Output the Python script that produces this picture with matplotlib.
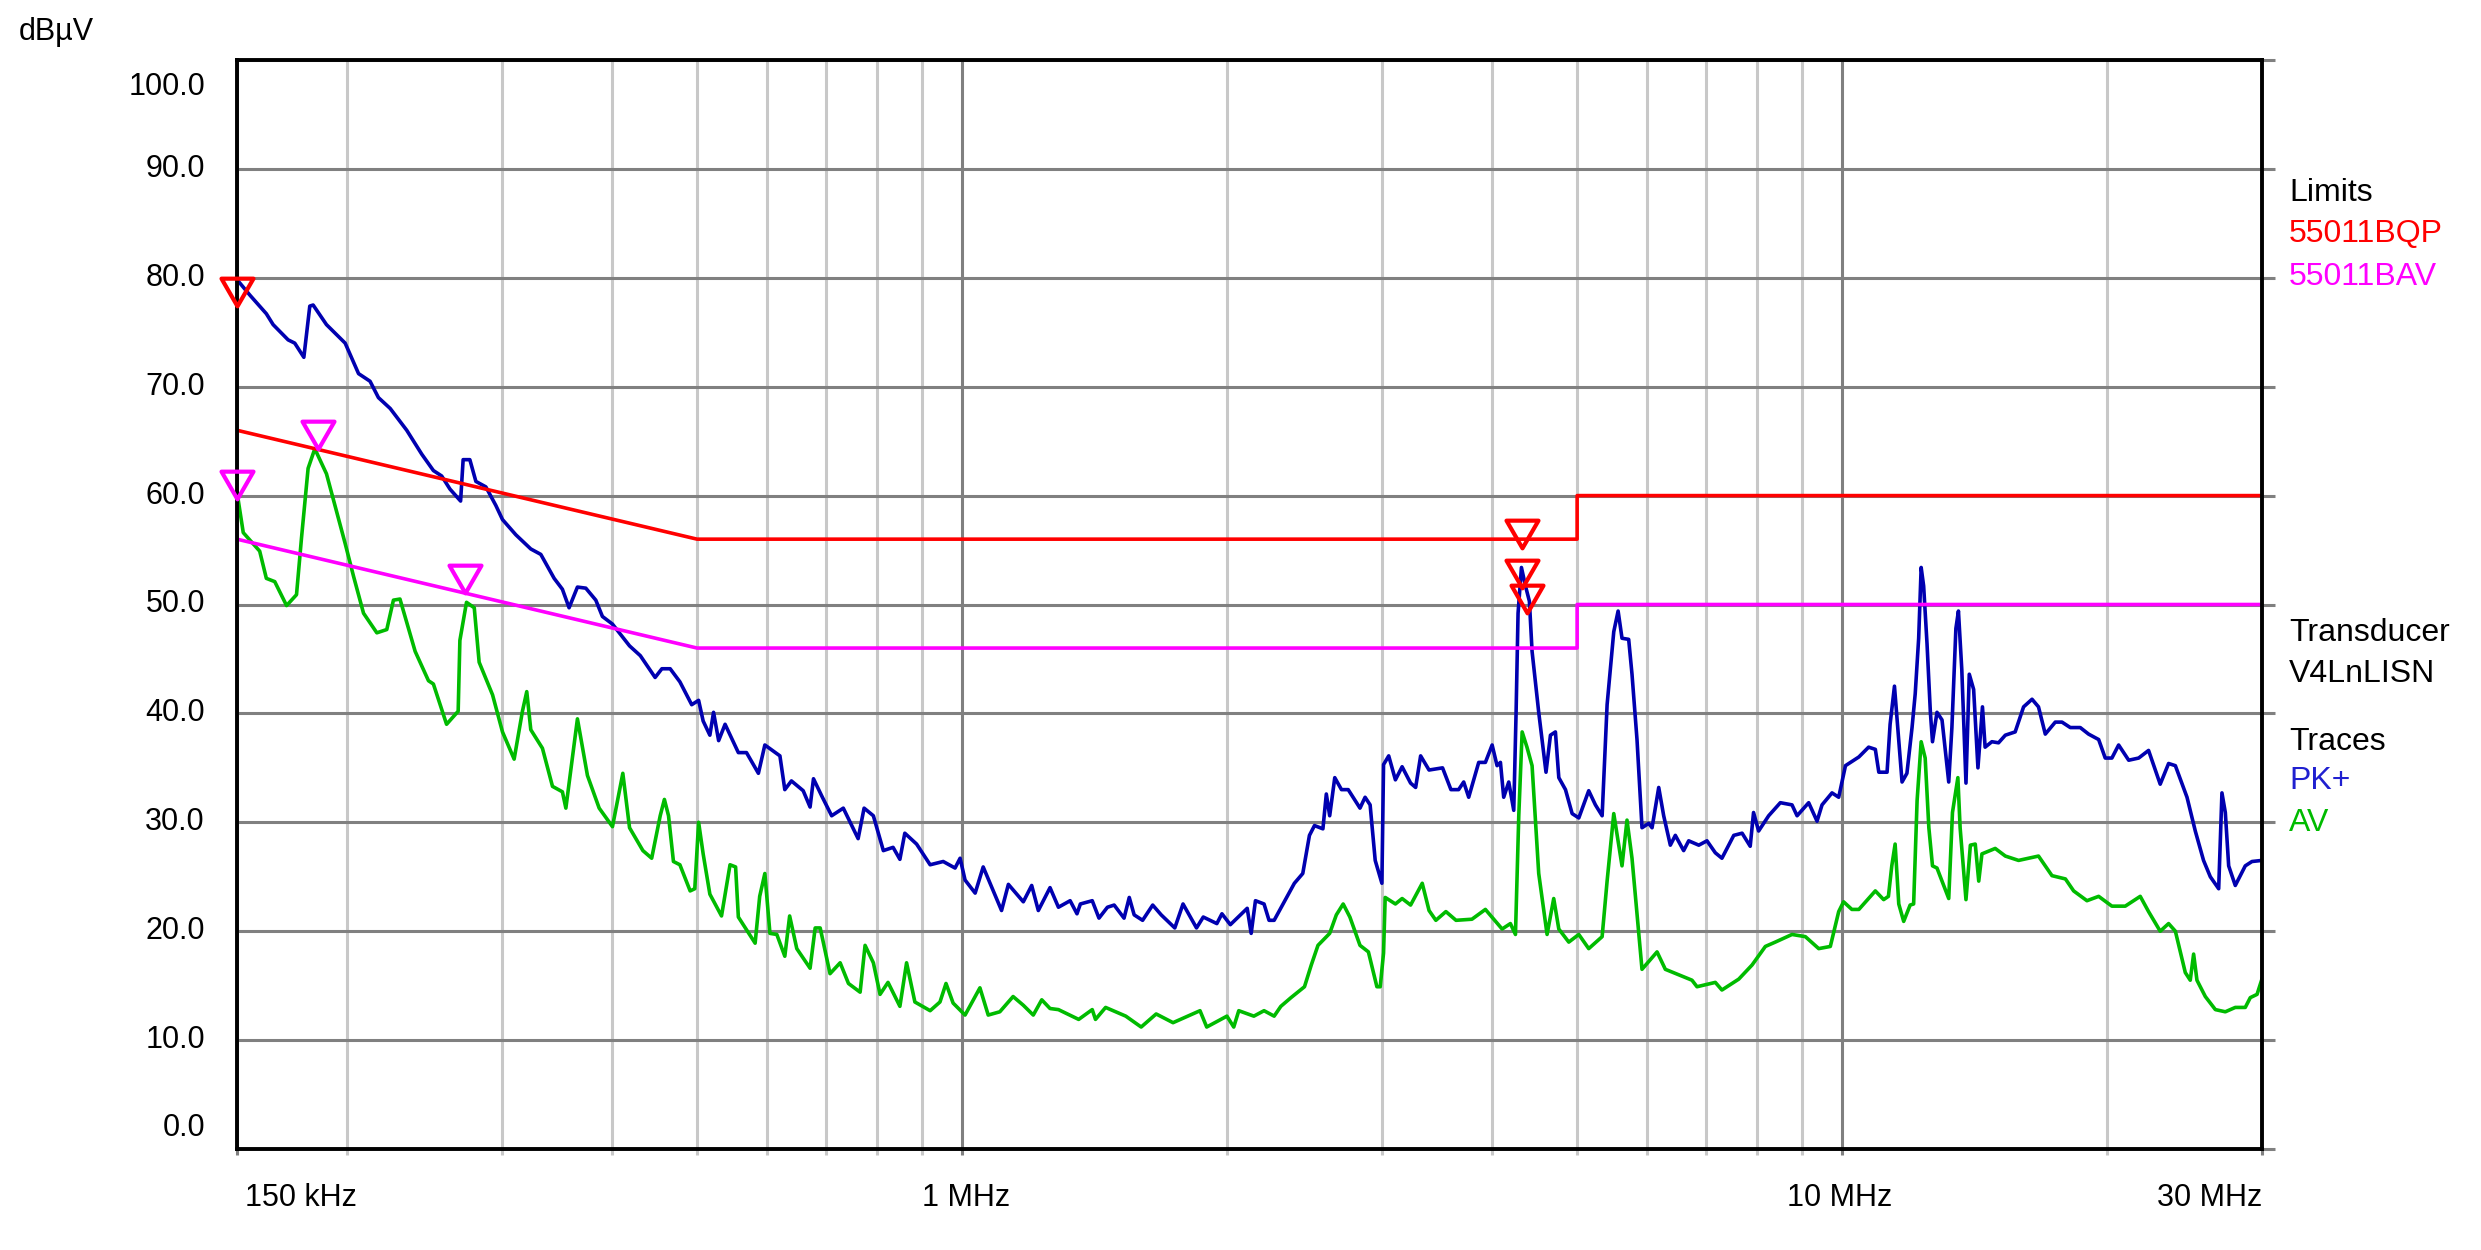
import matplotlib
matplotlib.use("Agg")
import matplotlib.pyplot as plt
from matplotlib.path import Path
from matplotlib.ticker import FixedLocator, NullLocator
from matplotlib.transforms import blended_transform_factory, ScaledTranslation

plt.rcParams['font.family'] = ['Liberation Sans', 'DejaVu Sans']

# frequency in MHz, level in dBuV
pk_freq = [0.1505, 0.1552, 0.1620, 0.1649, 0.1715, 0.1745, 0.1787, 0.1815, 0.1831, 0.1896,
           0.1991, 0.2062, 0.2125, 0.2172, 0.2240, 0.2339, 0.2433, 0.2508, 0.2563, 0.2619,
           0.2693, 0.2711, 0.2759, 0.2803, 0.2877, 0.2953, 0.3005, 0.3112, 0.3236, 0.3322,
           0.3440, 0.3515, 0.3577, 0.3656, 0.3737, 0.3836, 0.3903, 0.4007, 0.4190,
           0.431, 0.448, 0.456, 0.466, 0.478, 0.493, 0.502, 0.508, 0.517, 0.522,
           0.529, 0.538, 0.557, 0.569, 0.587, 0.597, 0.621, 0.629, 0.640, 0.660,
           0.672, 0.678, 0.693, 0.711, 0.733, 0.762, 0.774, 0.793, 0.814, 0.835,
           0.850, 0.861, 0.888, 0.920, 0.952, 0.982, 0.995, 1.008, 1.035, 1.057,
           1.109, 1.129, 1.174, 1.200, 1.221, 1.259,
           1.287, 1.327, 1.351, 1.363, 1.406, 1.431, 1.463, 1.489, 1.528, 1.549,
           1.569, 1.604, 1.647, 1.684, 1.745, 1.783, 1.847, 1.880, 1.948, 1.974,
           2.018, 2.109, 2.131, 2.155, 2.204, 2.233, 2.263, 2.324, 2.386, 2.439,
           2.482, 2.515, 2.571, 2.594, 2.617, 2.652, 2.699, 2.747, 2.833, 2.871,
           2.909, 2.948, 3.000, 3.013, 3.054, 3.108, 3.163, 3.234, 3.277, 3.320,
           3.394, 3.516, 3.594,
           3.667, 3.716, 3.765, 3.865, 3.933, 4.003, 4.055, 4.091, 4.126, 4.181,
           4.236, 4.262, 4.284, 4.322, 4.368, 4.413, 4.444, 4.522, 4.609, 4.663,
           4.724, 4.766, 4.850, 4.935, 5.022, 5.154, 5.245, 5.338, 5.408, 5.503,
           5.566, 5.623, 5.722, 5.772, 5.848, 5.925, 6.030, 6.083, 6.190, 6.271,
           6.381, 6.465, 6.607, 6.695, 6.874, 7.023, 7.178, 7.303, 7.533, 7.699,
           7.864, 7.933, 8.039, 8.253, 8.509, 8.773, 8.890, 9.164, 9.367, 9.490,
           9.741, 9.913, 10.09,
           10.45, 10.72, 10.91, 11.01, 11.25, 11.34, 11.47, 11.57, 11.70, 11.85,
           12.01, 12.11, 12.22, 12.30, 12.38, 12.49, 12.60, 12.67, 12.82, 12.99,
           13.22, 13.33, 13.47, 13.56, 13.68, 13.83, 13.95, 14.11, 14.27, 14.44,
           14.54, 14.80, 15.06, 15.33, 15.73, 16.08, 16.44, 16.72, 17.02, 17.47,
           17.78, 18.17, 18.65, 19.06, 19.57, 19.91, 20.26, 20.62, 21.17, 21.73,
           22.30, 22.99, 23.50, 23.92, 24.66, 25.20, 25.75, 26.21, 26.79, 27.02,
           27.26, 27.50, 27.98, 28.72, 29.23, 30.0]
pk_level = [79.7, 78.4, 76.7, 75.7, 74.3, 74.0, 72.7, 77.4, 77.5, 75.7,
            74.0, 71.2, 70.5, 69.0, 68.0, 66.0, 63.8, 62.3, 61.8, 60.6,
            59.5, 63.3, 63.3, 61.3, 60.8, 59.1, 57.8, 56.4, 55.1, 54.6,
            52.4, 51.4, 49.7, 51.6, 51.5, 50.4, 48.9, 48.2, 46.2,
            45.3, 43.3, 44.1, 44.1, 42.9, 40.8, 41.2, 39.3, 38.0, 40.1,
            37.5, 39.0, 36.4, 36.4, 34.5, 37.1, 36.1, 33.0, 33.8, 32.9,
            31.4, 34.0, 32.4, 30.6, 31.3, 28.5, 31.3, 30.6, 27.4, 27.7,
            26.6, 29.0, 28.0, 26.1, 26.4, 25.8, 26.7, 24.7, 23.5, 25.9,
            21.9, 24.3, 22.7, 24.2, 21.9, 24.0,
            22.2, 22.8, 21.6, 22.5, 22.8, 21.2, 22.2, 22.4, 21.2, 23.1,
            21.5, 21.0, 22.4, 21.5, 20.3, 22.5, 20.3, 21.3, 20.7, 21.6,
            20.6, 22.1, 19.8, 22.8, 22.5, 21.0, 21.0, 22.7, 24.4, 25.3,
            28.8, 29.7, 29.4, 32.6, 30.6, 34.1, 33.0, 33.0, 31.3, 32.3,
            31.6, 26.5, 24.4, 35.3, 36.1, 33.9, 35.1, 33.6, 33.2, 36.1,
            34.8, 35.0, 33.0,
            33.0, 33.7, 32.3, 35.5, 35.5, 37.1, 35.2, 35.5, 32.3, 33.7,
            31.1, 40.1, 49.2, 53.4, 51.7, 50.3, 45.7, 40.1, 34.6, 38.0,
            38.3, 34.1, 33.0, 30.8, 30.4, 32.9, 31.6, 30.6, 40.8, 47.5,
            49.4, 46.9, 46.8, 43.6, 37.6, 29.5, 29.9, 29.5, 33.2, 30.6,
            27.9, 28.8, 27.4, 28.3, 27.9, 28.3, 27.2, 26.7, 28.8, 29.0,
            27.8, 30.9, 29.2, 30.6, 31.8, 31.6, 30.6, 31.8, 30.1, 31.6,
            32.7, 32.3, 35.2,
            36.0, 36.9, 36.7, 34.6, 34.6, 39.0, 42.5, 38.7, 33.7, 34.5,
            38.7, 41.8, 46.9, 53.4, 51.7, 46.4, 40.1, 37.4, 40.1, 39.4,
            33.7, 38.7, 47.8, 49.4, 44.0, 33.6, 43.6, 42.2, 35.0, 40.6,
            36.9, 37.4, 37.3, 38.0, 38.3, 40.6, 41.3, 40.6, 38.1, 39.2,
            39.2, 38.7, 38.7, 38.1, 37.6, 35.9, 35.9, 37.1, 35.7, 35.9,
            36.6, 33.5, 35.4, 35.2, 32.3, 29.2, 26.5, 25.0, 23.9, 32.7,
            30.9, 26.0, 24.2, 26.0, 26.4, 26.5]

av_freq = [0.1505, 0.1525, 0.1592, 0.1620, 0.1656, 0.1708, 0.1753, 0.1776, 0.1807, 0.1839,
           0.1896, 0.1991, 0.2035, 0.2089, 0.2163, 0.2220, 0.2259, 0.2298, 0.2391, 0.2476,
           0.2508, 0.2596, 0.2676, 0.2688, 0.2735, 0.2791, 0.2827, 0.2928, 0.3005, 0.3098,
           0.3166, 0.3202, 0.3236, 0.3336, 0.3425, 0.3515, 0.3547, 0.3593, 0.3656, 0.3753,
           0.3870, 0.4007, 0.4117, 0.4190, 0.4339,
           0.444, 0.454, 0.459, 0.464, 0.470, 0.478, 0.491, 0.497, 0.502, 0.508,
           0.517, 0.533, 0.545, 0.553, 0.557, 0.582, 0.589, 0.597, 0.605, 0.616,
           0.629, 0.637, 0.649, 0.672, 0.681, 0.690, 0.708, 0.727, 0.743, 0.766,
           0.776, 0.793, 0.807, 0.824, 0.850, 0.865, 0.884, 0.920, 0.944, 0.959,
           0.977, 1.008, 1.048, 1.071, 1.104, 1.143, 1.174, 1.205, 1.232, 1.259,
           1.287, 1.357, 1.406, 1.418, 1.456, 1.535, 1.598, 1.662, 1.737, 1.864,
           1.897, 2.000, 2.036, 2.063, 2.146, 2.204, 2.263, 2.303, 2.365, 2.450,
           2.494, 2.538, 2.617, 2.663, 2.711, 2.759, 2.833, 2.896, 2.961, 2.987,
           3.013, 3.026, 3.108, 3.163, 3.234, 3.334, 3.394, 3.455, 3.547, 3.642,
           3.797, 3.933, 4.109, 4.199, 4.255, 4.292, 4.330, 4.385, 4.444, 4.522,
           4.622, 4.703, 4.766, 4.892, 5.022, 5.154, 5.338, 5.408, 5.503, 5.623,
           5.697, 5.772, 5.925, 6.163, 6.298, 6.753, 6.842, 7.178, 7.303, 7.632,
           7.903, 8.182, 8.398, 8.773, 9.085, 9.408, 9.698, 9.913, 10.04, 10.26,
           10.45, 10.91, 11.15, 11.29, 11.39, 11.49, 11.60, 11.75, 11.95, 12.06,
           12.17, 12.30, 12.43, 12.55, 12.67, 12.82, 13.22, 13.35, 13.54, 13.62,
           13.83, 13.99, 14.17, 14.30, 14.42, 14.93, 15.33, 15.87, 16.72, 17.32,
           17.94, 18.33, 18.98, 19.57, 20.26, 20.98, 21.82, 22.30, 22.99, 23.50,
           23.92, 24.55, 24.87, 25.09, 25.31, 25.87, 26.56, 27.26, 27.98, 28.72,
           29.10, 29.62, 30.0]
av_level = [59.6, 56.6, 54.9, 52.4, 52.1, 49.9, 50.9, 56.1, 62.5, 64.3,
            62.0, 55.6, 52.6, 49.2, 47.4, 47.7, 50.4, 50.5, 45.7, 43.0,
            42.7, 39.0, 40.2, 46.7, 50.2, 49.7, 44.7, 41.7, 38.3, 35.8,
            40.2, 42.0, 38.5, 36.8, 33.3, 32.8, 31.3, 34.8, 39.5, 34.3,
            31.3, 29.6, 34.5, 29.5, 27.4,
            26.7, 30.6, 32.1, 30.6, 26.4, 26.1, 23.7, 23.9, 30.0, 27.1,
            23.4, 21.4, 26.1, 25.9, 21.3, 18.9, 23.2, 25.3, 19.8, 19.7,
            17.7, 21.4, 18.4, 16.6, 20.3, 20.3, 16.1, 17.1, 15.2, 14.4,
            18.7, 17.1, 14.2, 15.3, 13.1, 17.1, 13.5, 12.7, 13.5, 15.2,
            13.4, 12.3, 14.8, 12.3, 12.6, 14.0, 13.2, 12.3, 13.7, 12.9,
            12.8, 11.9, 12.8, 11.9, 13.0, 12.2, 11.2, 12.4, 11.6, 12.7,
            11.2, 12.2, 11.2, 12.7, 12.2, 12.7, 12.2, 13.1, 13.9, 14.9,
            16.9, 18.7, 19.8, 21.5, 22.5, 21.3, 18.7, 18.1, 14.9, 14.9,
            18.0, 23.1, 22.5, 23.0, 22.4, 24.4, 21.9, 21.0, 21.8, 21.0,
            21.1, 22.0, 20.2, 20.7, 19.7, 30.6, 38.3, 36.9, 35.2, 25.3,
            19.7, 23.0, 20.2, 19.0, 19.7, 18.4, 19.5, 24.6, 30.8, 26.0,
            30.2, 26.7, 16.5, 18.1, 16.5, 15.5, 14.9, 15.3, 14.6, 15.6,
            16.9, 18.6, 19.0, 19.7, 19.5, 18.4, 18.6, 21.8, 22.7, 22.0,
            22.0, 23.7, 22.9, 23.2, 26.0, 28.0, 22.5, 20.9, 22.4, 22.5,
            32.0, 37.4, 35.9, 29.5, 26.0, 25.8, 23.0, 30.9, 34.1, 29.5,
            22.9, 27.9, 28.0, 24.6, 27.1, 27.6, 26.9, 26.5, 26.9, 25.1,
            24.8, 23.7, 22.8, 23.2, 22.3, 22.3, 23.2, 21.8, 20.0, 20.7,
            20.0, 16.2, 15.5, 17.9, 15.5, 14.0, 12.8, 12.6, 13.0, 13.0,
            13.9, 14.2, 15.6]

# EN 55011 class B limit lines
qp_lim_freq = [0.15, 0.5, 5.0, 5.0, 30.0]
qp_lim_level = [66.0, 56.0, 56.0, 60.0, 60.0]
av_lim_freq = [0.15, 0.5, 5.0, 5.0, 30.0]
av_lim_level = [56.0, 46.0, 46.0, 50.0, 50.0]

# final measurement markers
qp_mark_freq = [0.150, 4.33, 4.33, 4.38]
qp_mark_level = [78.7, 56.5, 52.8, 50.5]
av_mark_freq = [0.150, 0.1855, 0.2723]
av_mark_level = [61.0, 65.6, 52.3]

x_ticks = [0.15, 1, 10, 30]
x_tick_labels = ['150 kHz', '1 MHz', '10 MHz', '30 MHz']
x_minor = [0.2, 0.3, 0.4, 0.5, 0.6, 0.7, 0.8, 0.9, 2, 3, 4, 5, 6, 7, 8, 9, 20]
y_ticks = [0, 10, 20, 30, 40, 50, 60, 70, 80, 90, 100]

c_pk = '#0000b0'
c_av = '#00bb00'
c_qp = '#ff0000'
c_avl = '#ff00ff'

fig = plt.figure(figsize=(24.81, 12.5), dpi=100)
ax = fig.add_axes([0.0955, 0.0808, 0.8162, 0.8712])

ax.plot(pk_freq, pk_level, color=c_pk, lw=2.6, zorder=3)
ax.plot(av_freq, av_level, color=c_av, lw=2.6, zorder=3)
ax.plot(qp_lim_freq, qp_lim_level, color=c_qp, lw=2.6, zorder=4)
ax.plot(av_lim_freq, av_lim_level, color=c_avl, lw=2.6, zorder=4)

tri = Path([(-1, 0.866), (1, 0.866), (0, -0.866), (-1, 0.866)], closed=True)
ax.plot(qp_mark_freq, qp_mark_level, ls='none', marker=tri, ms=23, mfc='none',
        mec=c_qp, mew=3, zorder=6, clip_on=False)
ax.plot(av_mark_freq, av_mark_level, ls='none', marker=tri, ms=23, mfc='none',
        mec=c_avl, mew=3, zorder=6, clip_on=False)

ax.set_xscale('log')
ax.set_xlim(0.15, 30)
ax.set_ylim(0, 100)

ax.xaxis.set_major_locator(FixedLocator(x_ticks))
ax.xaxis.set_minor_locator(FixedLocator(x_minor))
ax.xaxis.set_major_formatter(plt.NullFormatter())
ax.xaxis.set_minor_formatter(plt.NullFormatter())

ax.set_yticks(y_ticks)
ax.yaxis.set_minor_locator(NullLocator())
ax.set_yticklabels([])

ax.grid(which='major', axis='x', color='#808080', lw=2.2)
ax.grid(which='minor', axis='x', color='#c8c8c8', lw=2.2)
ax.grid(which='major', axis='y', color='#808080', lw=2.2)
ax.set_axisbelow(True)

ax.tick_params(axis='x', which='major', direction='out', length=4, width=2.2,
               color='#808080')
ax.tick_params(axis='x', which='minor', direction='out', length=4, width=2.2,
               color='#c8c8c8')
ax.tick_params(axis='y', left=False, right=True, direction='out', length=9,
               width=2.2, color='#808080', labelleft=False)

for s in ax.spines.values():
    s.set_color('black')
    s.set_linewidth(2.8)
    s.set_zorder(5)

# y tick labels, the end ones pulled inside the frame
ytrans = blended_transform_factory(ax.transAxes, ax.transData)
for v in y_ticks:
    dy = 0
    if v == 100:
        dy = -0.27
    elif v == 0:
        dy = 0.21
    t = ytrans + ScaledTranslation(0, dy, fig.dpi_scale_trans)
    ax.text(-0.0158, v, '%.1f' % v, transform=t, ha='right', va='center',
            fontsize=22, color='black')

# x tick labels, first one left aligned, last one right aligned
xtrans = blended_transform_factory(ax.transData, ax.transAxes)
x_align = ['left', 'center', 'center', 'right']
x_shift = [0.08, 0.04, -0.02, 0.0]
for f, lab, ha, dx in zip(x_ticks, x_tick_labels, x_align, x_shift):
    t = xtrans + ScaledTranslation(dx, -0.49, fig.dpi_scale_trans)
    ax.text(f, 0, lab, transform=t, ha=ha, va='center', fontsize=22, color='black')

fig.text(19 / 2481, 1 - 32 / 1250, 'dBµV', fontsize=22, ha='left', va='center')

legend_x = 2289 / 2481
legend_rows = [('Limits', 193, 'black'), ('55011BQP', 234, c_qp), ('55011BAV', 277, c_avl),
               ('Transducer', 633, 'black'), ('V4LnLISN', 674, 'black'),
               ('Traces', 742, 'black'), ('PK+', 781, '#2020d0'), ('AV', 823, c_av)]
for txt, yy, col in legend_rows:
    fig.text(legend_x, 1 - yy / 1250, txt, fontsize=23, color=col, ha='left', va='center')

fig.savefig('out.png', dpi=100)
